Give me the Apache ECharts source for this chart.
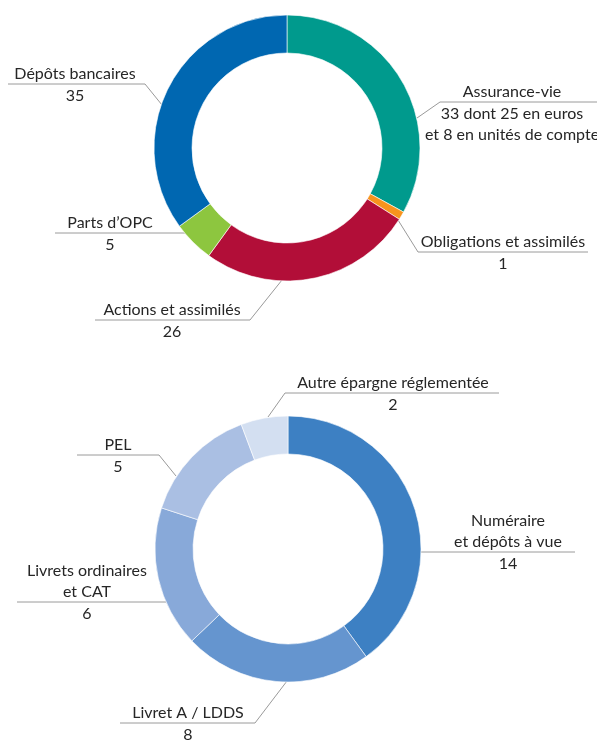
<!DOCTYPE html>
<html>
<head>
<meta charset="utf-8">
<script src="https://cdn.jsdelivr.net/npm/echarts@6/dist/echarts.min.js"></script>
<style>
  html, body { margin: 0; padding: 0; background: #fff; }
  #chart { width: 597px; height: 740px; }
</style>
</head>
<body>
<div id="chart"></div>
<script>
// données
var topNames = ['Assurance-vie', 'Obligations et assimilés', 'Actions et assimilés', 'Parts d’OPC', 'Dépôts bancaires']
var topValues = [33, 1, 26, 5, 35]
var topNotes = ['dont 25 en euros\net 8 en unités de compte', '', '', '', '']

var bottomNames = ['Numéraire\net dépôts à vue', 'Livret A / LDDS', 'Livrets ordinaires\net CAT', 'PEL', 'Autre épargne réglementée']
var bottomValues = [14, 8, 6, 5, 2]
var bottomNotes = ['', '', '', '', '']

// couleurs
var topColors = ['#009a8d', '#f7941d', '#b20e38', '#8dc63f', '#0067b1']
var bottomColors = ['#3d80c3', '#6595cf', '#88a9d9', '#aabfe3', '#d3dff1']

// position des étiquettes et des traits de rappel
var topLayout = [
  { cx: 512, y: 102, pts: [[417, 118], [440, 102], [597, 102]] },
  { cx: 503, y: 252, pts: [[398, 220], [418, 252], [588, 252]] },
  { cx: 172, y: 320, pts: [[282, 280], [250, 320], [95, 320]] },
  { cx: 110, y: 233, pts: [[186, 233], [186, 233], [55, 233]] },
  { cx: 75, y: 84, pts: [[162, 105], [145, 84], [8, 84]] }
]
var bottomLayout = [
  { cx: 508, y: 552, pts: [[421, 552], [421, 552], [575, 552]] },
  { cx: 188, y: 723, pts: [[287, 681], [255, 723], [120, 723]] },
  { cx: 87, y: 602, pts: [[166, 602], [166, 602], [17, 602]] },
  { cx: 118, y: 455, pts: [[176, 476], [159, 455], [77, 455]] },
  { cx: 393, y: 393, pts: [[268, 417], [285, 393], [499, 393]] }
]

var NAME_LH = 21
var myChart = echarts.init(document.getElementById('chart'))

function buildData(names, values, colors) {
  return names.map(function(n, i) {
    return { name: n, value: values[i], itemStyle: { color: colors[i] } }
  })
}

function makeFormatter(notes) {
  return function(p) {
    var parts = p.name.split('\n').map(function(s) {
      return '{n|' + s + '}'
    })
    var vals = (p.value + (notes[p.dataIndex] ? ' ' + notes[p.dataIndex] : '')).split('\n')
    vals.forEach(function(s, k) {
      parts.push((k === 0 ? '{v|' : '{w|') + s + '}')
    })
    return parts.join('\n')
  }
}

function makeLayout(names, layout) {
  return function(p) {
    var L = layout[p.dataIndex]
    var nLines = names[p.dataIndex].split('\n').length
    return {
      x: L.cx,
      y: L.y - nLines * NAME_LH,
      align: 'center',
      verticalAlign: 'top',
      labelLinePoints: L.pts
    }
  }
}

var txt = { color: '#262626', fontSize: 16, fontFamily: 'Lato, sans-serif', align: 'center' }
var rich = {
  n: Object.assign({ lineHeight: NAME_LH }, txt),
  v: Object.assign({ lineHeight: 23 }, txt),
  w: Object.assign({ lineHeight: 19 }, txt)
}

function pieSeries(center, names, values, colors, notes, layout) {
  return {
    type: 'pie',
    center: center,
    radius: [95, 133],
    startAngle: 90,
    clockwise: true,
    avoidLabelOverlap: false,
    silent: true,
    itemStyle: { borderColor: '#fff', borderWidth: 0.6 },
    label: {
      show: true,
      position: 'outside',
      formatter: makeFormatter(notes),
      rich: rich
    },
    labelLine: {
      show: true,
      lineStyle: { color: '#9a9a9a', width: 1 }
    },
    labelLayout: makeLayout(names, layout),
    data: buildData(names, values, colors)
  }
}

option = {
  animation: false,
  backgroundColor: '#fff',
  series: [
    pieSeries([287, 148], topNames, topValues, topColors, topNotes, topLayout),
    pieSeries([288, 549], bottomNames, bottomValues, bottomColors, bottomNotes, bottomLayout)
  ]
}
myChart.setOption(option)
window.onresize = function() {
  myChart.resize()
}
</script>
</body>
</html>
